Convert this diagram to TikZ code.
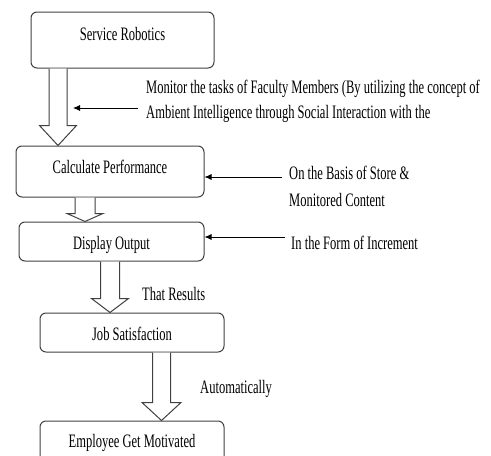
\documentclass[tikz,border=0pt]{standalone}
\usepackage{fontspec}
\setmainfont{Liberation Serif}[FakeStretch=0.66]
\usetikzlibrary{arrows.meta,calc,positioning}

% hollow block arrow: top point, tip, half shaft, half head, head length
\newcommand{\blockarrow}[5]{%
  \draw[hollow] let \p1=#1, \p2=#2 in
    (\x2-#3pt,\y1) -- (\x2-#3pt,\y2+#5pt) -- (\x2-#4pt,\y2+#5pt) -- (\p2)
    -- (\x2+#4pt,\y2+#5pt) -- (\x2+#3pt,\y2+#5pt) -- (\x2+#3pt,\y1);
}

\begin{document}
\begin{tikzpicture}[x=1pt, y=-1pt,
    box/.style={draw=black!75, line width=1pt, rounded corners=6pt,
      inner sep=0pt, text height=13pt, font=\fontsize{19}{24}\selectfont},
    lbl/.style={inner sep=0pt, align=left, font=\fontsize{19}{25}\selectfont},
    side/.style={-{Latex[length=7pt,width=6pt]}, line width=0.8pt},
    hollow/.style={draw=black!75, line width=1pt, fill=white, line join=miter}
  ]
  \clip (0,0) rectangle (491,456);

  \node [box, minimum width=183pt, minimum height=56pt, text depth=13pt] (sr) at (122.5,40) {Service Robotics};
  \node [box, minimum width=188pt, minimum height=51pt, text depth=10pt] (cp) at (110,171.5) {Calculate Performance};
  \node [box, minimum width=185pt, minimum height=39pt, text height=17pt, text depth=2pt] (do) at (111.5,241.5) {Display Output};
  \node [box, minimum width=184pt, minimum height=39pt, text height=17pt, text depth=2pt] (js) at (132,332.5) {Job Satisfaction};
  \node [box, minimum width=184pt, minimum height=50pt, text depth=11pt] (em) at (132,446) {Employee Get Motivated};

  \coordinate (ax1) at (58,0);
  \coordinate (ax2) at (85,0);
  \coordinate (ax3) at (110,0);
  \coordinate (ax4) at (161.5,0);
  \blockarrow{(sr.south -| ax1)}{(cp.north -| ax1)}{9}{18.5}{20}
  \blockarrow{(cp.south -| ax2)}{(do.north -| ax2)}{10}{18}{8}
  \blockarrow{(do.south -| ax3)}{(js.north -| ax3)}{9.5}{18.5}{14}
  \blockarrow{(js.south -| ax4)}{(em.north -| ax4)}{9}{19.5}{18}

  \coordinate (m1) at (138,108);
  \coordinate (m2) at (282,177);
  \coordinate (m3) at (285,237);
  \draw[side] (m1) -- ($(m1 -| ax1)+(15,0)$);
  \draw[side] (m2) -- (cp.east |- m2);
  \draw[side] (m3) -- (do.east |- m3);

  \node [lbl, anchor=base west] (t1) at (146,118) {Monitor the tasks of Faculty Members (By utilizing the concept of\\Ambient Intelligence through Social Interaction with the};
  \node [lbl, anchor=base west] (t2) at (289,206) {On the Basis of Store \&\\[2pt]Monitored Content};
  \node [lbl, anchor=base west] (t3) at (291,249) {In the Form of Increment};
  \node [lbl, anchor=base west] (t4) at (142,300) {That Results};
  \node [lbl, anchor=base west] (t5) at (200,393) {Automatically};
\end{tikzpicture}
\end{document}
